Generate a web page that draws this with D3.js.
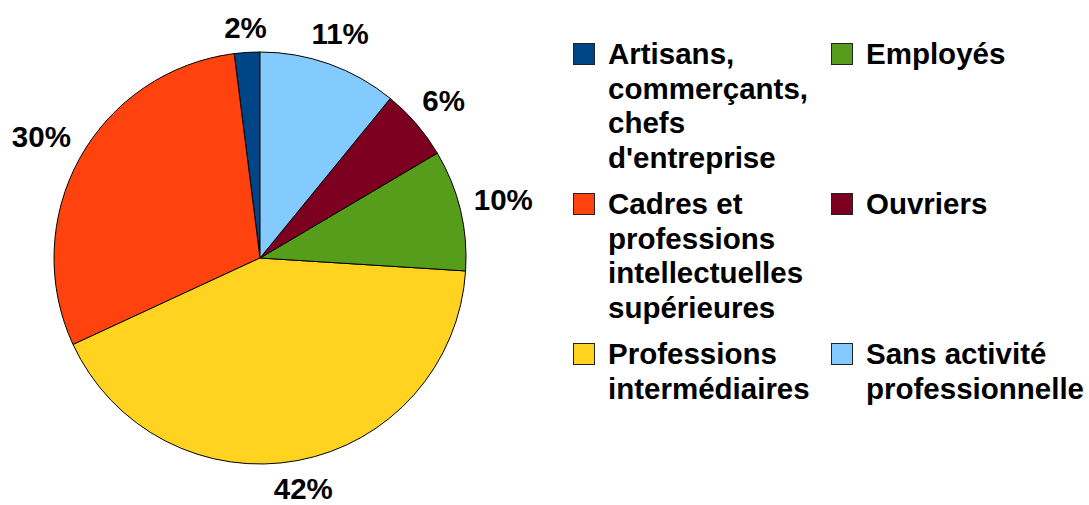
<!DOCTYPE html>
<html>
<head>
<meta charset="utf-8">
<script src="https://cdn.jsdelivr.net/npm/d3@7"></script>
<style>
  html, body { margin: 0; padding: 0; background: #fff; }
  svg { display: block; }
  text { font-family: "Liberation Sans", Arial, sans-serif; font-weight: bold; fill: #000; }
</style>
</head>
<body>
<svg id="chart" width="1089" height="505"></svg>
<script>
const categories = [
  "Artisans, commerçants, chefs d'entreprise",
  "Cadres et professions intellectuelles supérieures",
  "Professions intermédiaires",
  "Employés",
  "Ouvriers",
  "Sans activité professionnelle"
];
const values = [2.0, 29.9, 42.1, 9.5, 5.6, 10.9];
const colors = ["#004586", "#ff420e", "#ffd320", "#579d1c", "#7e0021", "#83caff"];

const W = 1089, H = 505;
const cx = 260, cy = 258, R = 206;
const fontSize = 29.5;
const svg = d3.select("#chart");

const data = categories.map((c, i) => ({ name: c, value: values[i], color: colors[i] }));

const pie = d3.pie().sort(null).value(d => d.value)
  .startAngle(0).endAngle(-2 * Math.PI);
const arcs = pie(data);
const arc = d3.arc().innerRadius(0).outerRadius(R);

const g = svg.append("g").attr("transform", `translate(${cx},${cy})`);
g.selectAll("path.slice").data(arcs).enter().append("path")
  .attr("class", "slice")
  .attr("d", arc)
  .attr("fill", d => d.data.color)
  .attr("stroke", "#000")
  .attr("stroke-width", 1)
  .attr("stroke-linejoin", "round");

// labels outside the pie
const gap = 13;
const capH = fontSize * 0.716;
arcs.forEach(a => {
  const mid = (a.startAngle + a.endAngle) / 2;
  const sx = Math.sin(mid), sy = -Math.cos(mid);
  const t = g.append("text")
    .attr("font-size", fontSize)
    .attr("text-anchor", "middle")
    .text(Math.round(a.data.value) + "%");
  const w = t.node().getComputedTextLength();
  const support = Math.abs(sx) * w / 2 + Math.abs(sy) * capH / 2;
  const d = R + gap + support;
  t.attr("x", sx * d).attr("y", sy * d + capH / 2);
});

// legend (column-major, 3 rows)
const legend = svg.append("g");
const colX = [573, 831];
const rowTop = [43, 193, 343];
const sq = 21, textOff = 35, lineH = 34.5, maxW = 220;
data.forEach((d, i) => {
  const col = Math.floor(i / 3), row = i % 3;
  const x = colX[col], y = rowTop[row];
  legend.append("rect")
    .attr("x", x + 0.5).attr("y", y + 0.5)
    .attr("width", sq).attr("height", sq)
    .attr("fill", d.color).attr("stroke", "#222").attr("stroke-width", 1);
  const t = legend.append("text")
    .attr("font-size", fontSize)
    .attr("x", x + textOff).attr("y", y + 21);
  // word wrap
  const words = d.name.split(" ");
  let line = [], lines = [];
  const probe = legend.append("text").attr("font-size", fontSize);
  words.forEach(wd => {
    const test = line.concat([wd]).join(" ");
    probe.text(test);
    if (line.length && probe.node().getComputedTextLength() > maxW) {
      lines.push(line.join(" "));
      line = [wd];
    } else {
      line.push(wd);
    }
  });
  if (line.length) lines.push(line.join(" "));
  probe.remove();
  lines.forEach((ln, k) => {
    t.append("tspan").attr("x", x + textOff).attr("dy", k === 0 ? 0 : lineH).text(ln);
  });
});
</script>
</body>
</html>
